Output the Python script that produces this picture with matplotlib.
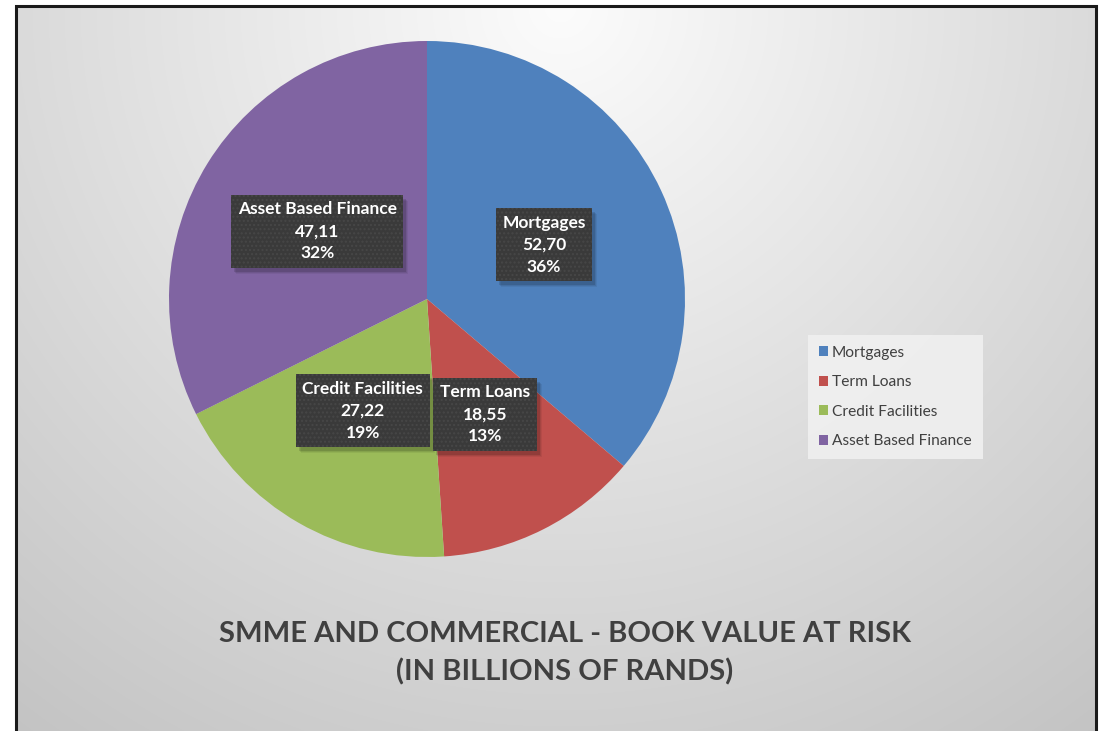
import numpy as np
import matplotlib
matplotlib.use("Agg")
import matplotlib.pyplot as plt
from matplotlib.patches import Rectangle, Patch
from matplotlib.transforms import IdentityTransform

categories = ["Mortgages", "Term Loans", "Credit Facilities", "Asset Based Finance"]
values = [52.70, 18.55, 27.22, 47.11]
value_labels = ["52,70", "18,55", "27,22", "47,11"]
colors = ["#4F81BD", "#C0504D", "#9BBB59", "#8064A2"]
title_lines = ["SMME AND COMMERCIAL - BOOK VALUE AT RISK", "(IN BILLIONS OF RANDS)"]

plt.rcParams['font.family'] = ['Lato', 'DejaVu Sans']
plt.rcParams['hatch.linewidth'] = 1.0

W, H = 1099, 731
fig = plt.figure(figsize=(W / 100, H / 100), dpi=100)
fig.patch.set_facecolor("white")

# background gradient panel
x0, x1, ytop = 17, 1096, 6
bg = fig.add_axes([x0 / W, 0, (x1 - x0) / W, (H - ytop) / H])
bg.set_axis_off()
nx, ny = x1 - x0, H - ytop
xx, yy = np.meshgrid(np.arange(nx), np.arange(ny))
cx, cy = 560 - x0, 0
d = np.sqrt((xx - cx) ** 2 + (yy - cy) ** 2)
v = 252 - 50 * np.clip(d / 800.0, 0, 1.2)
img = np.dstack([v, v, v]) / 255.0
bg.imshow(np.clip(img, 0, 1), aspect="auto", extent=[0, 1, 0, 1], origin="upper")
bg.set_xlim(0, 1)
bg.set_ylim(0, 1)

# frame
fig.add_artist(Rectangle(((x0 - 1) / W, -0.05), (x1 - x0 + 1) / W, (H - ytop) / H + 0.05,
                         transform=fig.transFigure, fill=False, edgecolor="#1a1a1a",
                         linewidth=2.2, zorder=10))

# pie
pcx, pcy, R = 427, 299, 258
ax = fig.add_axes([(pcx - R) / W, (H - pcy - R) / H, 2 * R / W, 2 * R / H])
ax.set_axis_off()
wedges, _ = ax.pie(values, colors=colors, startangle=90, counterclock=False,
                   radius=1.0, wedgeprops=dict(linewidth=0))
ax.set_xlim(-1, 1)
ax.set_ylim(-1, 1)

total = sum(values)
label_texts = []
for w, cat, vl, val in zip(wedges, categories, value_labels, values):
    ang = np.deg2rad((w.theta1 + w.theta2) / 2)
    px, py = 0.5 * np.cos(ang), 0.5 * np.sin(ang)
    txt = f"{cat}\n{vl}\n{round(100 * val / total):.0f}%"
    t = ax.text(px, py, txt, ha="center", va="center", fontsize=12.5, fontweight="bold",
                color="white", linespacing=1.45,
                bbox=dict(boxstyle="square,pad=0.38", facecolor="#3a3a3a",
                          edgecolor="#474747", linewidth=0, hatch="...."), zorder=5)
    label_texts.append(t)

# legend
handles = [Patch(facecolor=c, edgecolor="none") for c in colors]
leg = fig.legend(handles, categories, loc="center left",
                 bbox_to_anchor=(808 / W, 1 - 397 / H), frameon=True,
                 fontsize=11.2, handlelength=0.6, handleheight=0.6,
                 handletextpad=0.25, labelspacing=1.0, borderpad=0.7,
                 fancybox=False, borderaxespad=0)
leg.get_frame().set_facecolor("#f0f0f0")
leg.get_frame().set_edgecolor("none")
leg.get_frame().set_alpha(0.9)
for t in leg.get_texts():
    t.set_color("#404040")

# title
fig.text(565 / W, 1 - 653 / H, "\n".join(title_lines), ha="center", va="center",
         fontsize=21, fontweight="bold", color="#404040", linespacing=1.5)

# soft drop shadows behind label boxes
fig.canvas.draw()
for t in label_texts:
    bb = t.get_bbox_patch().get_window_extent()
    for k, a in [(6, 0.06), (5, 0.08), (4, 0.12)]:
        ax.add_patch(Rectangle((bb.x0 + k - 1, bb.y0 - k), bb.width, bb.height,
                               transform=IdentityTransform(), facecolor="black",
                               alpha=a, linewidth=0, zorder=4, clip_on=False))

fig.savefig("out.png", dpi=100)
